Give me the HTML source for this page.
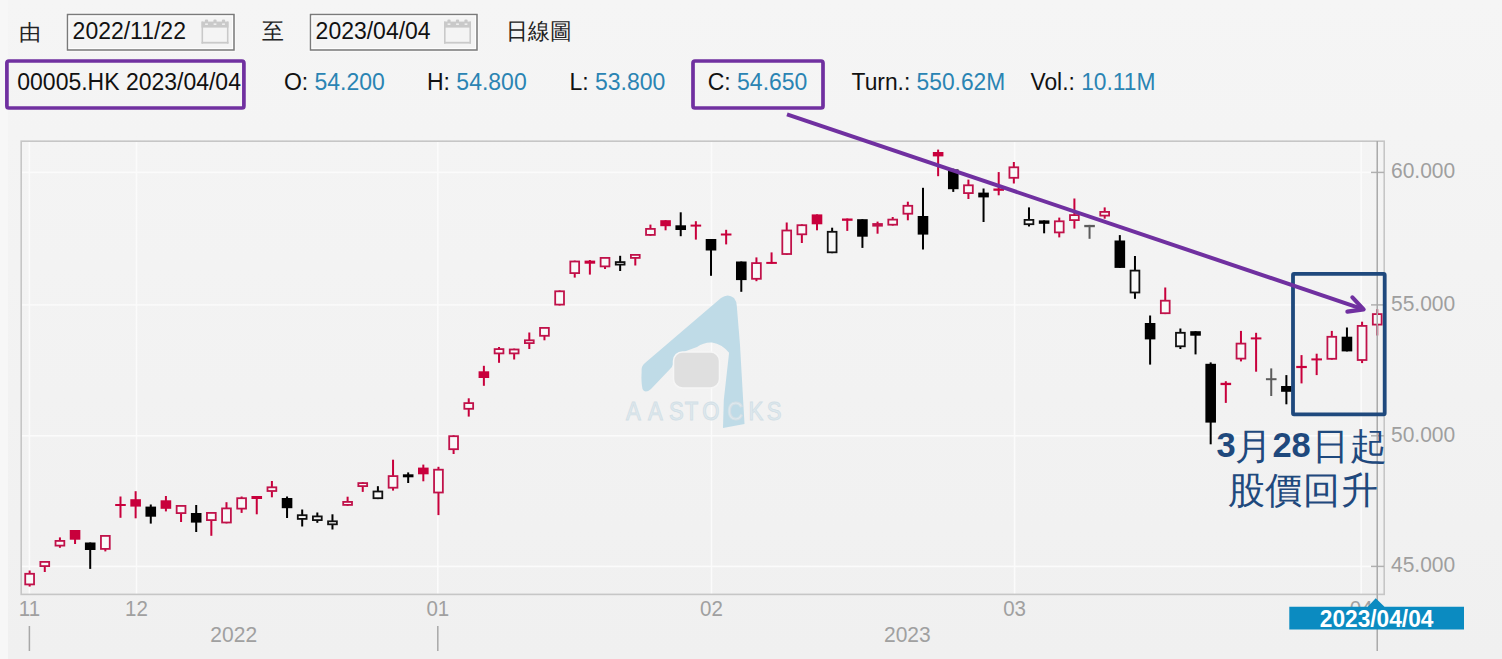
<!DOCTYPE html>
<html lang="zh-Hant"><head><meta charset="utf-8"><style>
html,body{margin:0;padding:0;}
body{width:1502px;height:659px;overflow:hidden;position:relative;background:linear-gradient(#f5f5f5,#f0f0f0);}
.strip{position:absolute;left:0;top:0;width:8px;height:659px;background:#f7f7f7;}
svg{position:absolute;left:0;top:0;}
svg text{font-family:"Liberation Sans",sans-serif;}
</style></head><body>
<div class="strip"></div>
<svg width="1502" height="659" viewBox="0 0 1502 659">
<rect x="66.2" y="13.2" width="169.1" height="38.1" fill="none" stroke="#fbfbfb" stroke-width="1"/>
<rect x="67.5" y="14.5" width="166.5" height="35.5" fill="#f4f4f4" stroke="#7a7a7a" stroke-width="1.5"/>
<rect x="69.0" y="16" width="163.5" height="32.5" fill="none" stroke="#fdfdfd" stroke-width="1"/>
<rect x="309.2" y="13.2" width="169.1" height="38.1" fill="none" stroke="#fbfbfb" stroke-width="1"/>
<rect x="310.5" y="14.5" width="166.5" height="35.5" fill="#f4f4f4" stroke="#7a7a7a" stroke-width="1.5"/>
<rect x="312.0" y="16" width="163.5" height="32.5" fill="none" stroke="#fdfdfd" stroke-width="1"/>
<g transform="translate(201.5,21.6)" fill="#c9c9c9"><rect x="0" y="0" width="27" height="6"/><rect x="0" y="0" width="1.6" height="22"/><rect x="25.4" y="0" width="1.6" height="22"/><rect x="0" y="20.2" width="27" height="1.8"/><rect x="3.4" y="-2" width="3.2" height="3" rx="1"/><rect x="3.6" y="1.8" width="2.8" height="1.6" fill="#eeeeee"/><rect x="11.9" y="-2" width="3.2" height="3" rx="1"/><rect x="12.1" y="1.8" width="2.8" height="1.6" fill="#eeeeee"/><rect x="20.4" y="-2" width="3.2" height="3" rx="1"/><rect x="20.6" y="1.8" width="2.8" height="1.6" fill="#eeeeee"/></g>
<g transform="translate(444,21.6)" fill="#c9c9c9"><rect x="0" y="0" width="27" height="6"/><rect x="0" y="0" width="1.6" height="22"/><rect x="25.4" y="0" width="1.6" height="22"/><rect x="0" y="20.2" width="27" height="1.8"/><rect x="3.4" y="-2" width="3.2" height="3" rx="1"/><rect x="3.6" y="1.8" width="2.8" height="1.6" fill="#eeeeee"/><rect x="11.9" y="-2" width="3.2" height="3" rx="1"/><rect x="12.1" y="1.8" width="2.8" height="1.6" fill="#eeeeee"/><rect x="20.4" y="-2" width="3.2" height="3" rx="1"/><rect x="20.6" y="1.8" width="2.8" height="1.6" fill="#eeeeee"/></g>
<text transform="translate(72.6,39.2) scale(1,1.03)" font-size="23" fill="#111" font-weight="normal" text-anchor="start" >2022/11/22</text>
<text transform="translate(315.6,39.2) scale(1,1.03)" font-size="23" fill="#111" font-weight="normal" text-anchor="start" >2023/04/04</text>
<text transform="translate(18.6,39.5) scale(1,1)" font-size="21.5" fill="#222" font-weight="normal" text-anchor="start" font-family="Liberation Serif, serif" >由</text>
<text transform="translate(261.5,38.5) scale(1,1.05)" font-size="22" fill="#222" font-weight="normal" text-anchor="start" font-family="Liberation Serif, serif" >至</text>
<text transform="translate(505.5,38.5) scale(1,1.05)" font-size="22" fill="#222" font-weight="normal" text-anchor="start" font-family="Liberation Serif, serif" >日線圖</text>
<rect x="6.9" y="61" width="237" height="47" rx="2" fill="none" stroke="#7030a0" stroke-width="3.7"/>
<rect x="693" y="61" width="130" height="47" rx="2" fill="none" stroke="#7030a0" stroke-width="3.7"/>
<text transform="translate(17.3,90.4) scale(1,1.03)" font-size="23" fill="#111" font-weight="normal" text-anchor="start" >00005.HK 2023/04/04</text>
<text transform="translate(283.9,90.4) scale(1,1.03)" font-size="23" fill="#111" font-weight="normal" text-anchor="start" >O: <tspan fill="#2a84b3">54.200</tspan></text>
<text transform="translate(427,90.4) scale(1,1.03)" font-size="23" fill="#111" font-weight="normal" text-anchor="start" >H: <tspan fill="#2a84b3">54.800</tspan></text>
<text transform="translate(569.4,90.4) scale(1,1.03)" font-size="23" fill="#111" font-weight="normal" text-anchor="start" >L: <tspan fill="#2a84b3">53.800</tspan></text>
<text transform="translate(707.7,90.4) scale(1,1.03)" font-size="23" fill="#111" font-weight="normal" text-anchor="start" >C: <tspan fill="#2a84b3">54.650</tspan></text>
<text transform="translate(851.6,90.4) scale(1,1.03)" font-size="22.8" fill="#111" font-weight="normal" text-anchor="start" >Turn.: <tspan fill="#2a84b3">550.62M</tspan></text>
<text transform="translate(1030.5,90.4) scale(1,1.03)" font-size="22.8" fill="#111" font-weight="normal" text-anchor="start" >Vol.: <tspan fill="#2a84b3">10.11M</tspan></text>
<rect x="28.65" y="142" width="1.5" height="452" fill="#fbfbfb"/>
<rect x="135.75" y="142" width="1.5" height="452" fill="#fbfbfb"/>
<rect x="437.05" y="142" width="1.5" height="452" fill="#fbfbfb"/>
<rect x="710.75" y="142" width="1.5" height="452" fill="#fbfbfb"/>
<rect x="1013.85" y="142" width="1.5" height="452" fill="#fbfbfb"/>
<rect x="1360.45" y="142" width="1.5" height="452" fill="#fbfbfb"/>
<rect x="22" y="171.65" width="1361" height="1.5" fill="#fbfbfb"/>
<rect x="22" y="304.15" width="1361" height="1.5" fill="#fbfbfb"/>
<rect x="22" y="435.05" width="1361" height="1.5" fill="#fbfbfb"/>
<rect x="22" y="565.65" width="1361" height="1.5" fill="#fbfbfb"/>
<path d="M641.6,372 Q641,366 645,363 L721,298 Q728,293 734,298 Q736.5,301 736.8,306 L740,345 L744.5,424 L723,428 L723.8,400 L729.1,352.8 Q722,344 712,342.5 Q704,342 697,347 L686,351 Q676,356 671.7,367.2 L651,389 Q645,394 642.5,389 Q641,382 641.6,372 Z" fill="#bfdbe7"/>
<rect x="673.5" y="352" width="46" height="36" rx="9" fill="#dfdfdf" stroke="#f6f6f6" stroke-width="1.5"/>
<text transform="translate(633.4,420) scale(0.92,1.05)" font-size="24" fill="#dfeaef" stroke="#d3dfe6" stroke-width="0.9" text-anchor="middle">A</text>
<text transform="translate(655.3,420) scale(0.92,1.05)" font-size="24" fill="#dfeaef" stroke="#d3dfe6" stroke-width="0.9" text-anchor="middle">A</text>
<text transform="translate(676.3,420) scale(0.92,1.05)" font-size="24" fill="#dfeaef" stroke="#d3dfe6" stroke-width="0.9" text-anchor="middle">S</text>
<text transform="translate(691.6,420) scale(0.92,1.05)" font-size="24" fill="#dfeaef" stroke="#d3dfe6" stroke-width="0.9" text-anchor="middle">T</text>
<text transform="translate(710.9,420) scale(0.92,1.05)" font-size="24" fill="#dfeaef" stroke="#d3dfe6" stroke-width="0.9" text-anchor="middle">O</text>
<text transform="translate(734.9,420) scale(0.92,1.05)" font-size="24" fill="#dfeaef" stroke="#d3dfe6" stroke-width="0.9" text-anchor="middle">C</text>
<text transform="translate(755.9,420) scale(0.92,1.05)" font-size="24" fill="#dfeaef" stroke="#d3dfe6" stroke-width="0.9" text-anchor="middle">K</text>
<text transform="translate(774.0,420) scale(0.92,1.05)" font-size="24" fill="#dfeaef" stroke="#d3dfe6" stroke-width="0.9" text-anchor="middle">S</text>
<rect x="21.2" y="141.2" width="1363" height="453.2" fill="none" stroke="#c6c6c6" stroke-width="1.6"/>
<rect x="1371" y="171.65" width="13" height="1.5" fill="#b0b0b0"/>
<text transform="translate(1391,178.2) scale(1,1.08)" font-size="21" fill="#9f9f9f" font-weight="normal" text-anchor="start" >60.000</text>
<rect x="1371" y="304.15" width="13" height="1.5" fill="#b0b0b0"/>
<text transform="translate(1391,310.7) scale(1,1.08)" font-size="21" fill="#9f9f9f" font-weight="normal" text-anchor="start" >55.000</text>
<rect x="1371" y="435.05" width="13" height="1.5" fill="#b0b0b0"/>
<text transform="translate(1391,441.6) scale(1,1.08)" font-size="21" fill="#9f9f9f" font-weight="normal" text-anchor="start" >50.000</text>
<rect x="1371" y="565.65" width="13" height="1.5" fill="#b0b0b0"/>
<text transform="translate(1391,572.2) scale(1,1.08)" font-size="21" fill="#9f9f9f" font-weight="normal" text-anchor="start" >45.000</text>
<rect x="28.64" y="570.50" width="2.0" height="16.10" fill="#c8003c"/>
<rect x="25.24" y="573.80" width="8.799999999999999" height="10.60" fill="#f9f9f9" stroke="#c0124a" stroke-width="1.8"/>
<rect x="43.78" y="561.00" width="2.0" height="11.00" fill="#c8003c"/>
<rect x="40.38" y="561.90" width="8.799999999999999" height="4.20" fill="#f9f9f9" stroke="#c0124a" stroke-width="1.8"/>
<rect x="58.92" y="537.40" width="2.0" height="10.40" fill="#c8003c"/>
<rect x="55.52" y="540.90" width="8.799999999999999" height="4.70" fill="#f9f9f9" stroke="#c0124a" stroke-width="1.8"/>
<rect x="74.06" y="530.00" width="2.0" height="14.00" fill="#c8003c"/>
<rect x="69.76" y="530.00" width="10.6" height="9.70" fill="#c8003c"/>
<rect x="89.21" y="542.50" width="2.0" height="26.40" fill="#000000"/>
<rect x="84.91" y="542.50" width="10.6" height="7.50" fill="#000000"/>
<rect x="104.35" y="535.00" width="2.0" height="16.40" fill="#c8003c"/>
<rect x="100.95" y="535.90" width="8.799999999999999" height="13.00" fill="#f9f9f9" stroke="#c0124a" stroke-width="1.8"/>
<rect x="119.49" y="496.50" width="2.0" height="21.30" fill="#c8003c"/>
<rect x="115.19" y="504.00" width="10.6" height="2.00" fill="#c8003c"/>
<rect x="134.63" y="491.20" width="2.0" height="27.10" fill="#c8003c"/>
<rect x="130.33" y="499.20" width="10.6" height="7.40" fill="#c8003c"/>
<rect x="149.77" y="504.50" width="2.0" height="19.10" fill="#000000"/>
<rect x="145.47" y="506.60" width="10.6" height="10.10" fill="#000000"/>
<rect x="164.91" y="496.00" width="2.0" height="15.40" fill="#c8003c"/>
<rect x="160.61" y="500.30" width="10.6" height="8.50" fill="#c8003c"/>
<rect x="180.06" y="505.00" width="2.0" height="17.00" fill="#c8003c"/>
<rect x="176.66" y="505.90" width="8.799999999999999" height="7.20" fill="#f9f9f9" stroke="#c0124a" stroke-width="1.8"/>
<rect x="195.20" y="505.00" width="2.0" height="27.00" fill="#000000"/>
<rect x="190.90" y="513.00" width="10.6" height="9.60" fill="#000000"/>
<rect x="210.34" y="512.00" width="2.0" height="23.80" fill="#c8003c"/>
<rect x="206.94" y="512.90" width="8.799999999999999" height="7.20" fill="#f9f9f9" stroke="#c0124a" stroke-width="1.8"/>
<rect x="225.48" y="502.20" width="2.0" height="21.20" fill="#c8003c"/>
<rect x="222.08" y="508.40" width="8.799999999999999" height="14.10" fill="#f9f9f9" stroke="#c0124a" stroke-width="1.8"/>
<rect x="240.62" y="496.50" width="2.0" height="16.40" fill="#c8003c"/>
<rect x="237.22" y="498.20" width="8.799999999999999" height="10.40" fill="#f9f9f9" stroke="#c0124a" stroke-width="1.8"/>
<rect x="255.76" y="496.00" width="2.0" height="18.30" fill="#c8003c"/>
<rect x="251.46" y="496.00" width="10.6" height="3.00" fill="#c8003c"/>
<rect x="270.90" y="481.00" width="2.0" height="16.30" fill="#c8003c"/>
<rect x="267.50" y="487.30" width="8.799999999999999" height="3.70" fill="#f9f9f9" stroke="#c0124a" stroke-width="1.8"/>
<rect x="286.05" y="496.50" width="2.0" height="21.50" fill="#000000"/>
<rect x="281.75" y="498.00" width="10.6" height="10.20" fill="#000000"/>
<rect x="301.19" y="509.50" width="2.0" height="17.00" fill="#000000"/>
<rect x="297.79" y="515.20" width="8.799999999999999" height="3.70" fill="#f9f9f9" stroke="#111" stroke-width="1.8"/>
<rect x="316.33" y="512.50" width="2.0" height="10.30" fill="#000000"/>
<rect x="312.93" y="516.40" width="8.799999999999999" height="3.70" fill="#f9f9f9" stroke="#111" stroke-width="1.8"/>
<rect x="331.47" y="514.30" width="2.0" height="15.20" fill="#000000"/>
<rect x="328.07" y="521.30" width="8.799999999999999" height="3.00" fill="#f9f9f9" stroke="#111" stroke-width="1.8"/>
<rect x="346.61" y="496.70" width="2.0" height="9.10" fill="#c8003c"/>
<rect x="343.21" y="501.90" width="8.799999999999999" height="3.00" fill="#f9f9f9" stroke="#c0124a" stroke-width="1.8"/>
<rect x="361.75" y="482.20" width="2.0" height="9.70" fill="#c8003c"/>
<rect x="358.35" y="483.10" width="8.799999999999999" height="3.00" fill="#f9f9f9" stroke="#c0124a" stroke-width="1.8"/>
<rect x="376.89" y="486.20" width="2.0" height="12.90" fill="#000000"/>
<rect x="373.49" y="491.50" width="8.799999999999999" height="6.70" fill="#f9f9f9" stroke="#111" stroke-width="1.8"/>
<rect x="392.04" y="459.70" width="2.0" height="30.90" fill="#c8003c"/>
<rect x="388.64" y="476.10" width="8.799999999999999" height="11.60" fill="#f9f9f9" stroke="#c0124a" stroke-width="1.8"/>
<rect x="407.18" y="472.40" width="2.0" height="10.60" fill="#000000"/>
<rect x="402.88" y="474.30" width="10.6" height="3.00" fill="#000000"/>
<rect x="422.32" y="464.60" width="2.0" height="16.70" fill="#c8003c"/>
<rect x="418.02" y="467.60" width="10.6" height="6.70" fill="#c8003c"/>
<rect x="437.46" y="466.80" width="2.0" height="48.30" fill="#c8003c"/>
<rect x="434.06" y="469.70" width="8.799999999999999" height="22.80" fill="#f9f9f9" stroke="#c0124a" stroke-width="1.8"/>
<rect x="452.60" y="435.30" width="2.0" height="18.70" fill="#c8003c"/>
<rect x="449.20" y="436.20" width="8.799999999999999" height="13.00" fill="#f9f9f9" stroke="#c0124a" stroke-width="1.8"/>
<rect x="467.74" y="398.30" width="2.0" height="18.30" fill="#c8003c"/>
<rect x="464.34" y="403.10" width="8.799999999999999" height="5.70" fill="#f9f9f9" stroke="#c0124a" stroke-width="1.8"/>
<rect x="482.88" y="365.80" width="2.0" height="20.00" fill="#c8003c"/>
<rect x="478.58" y="371.30" width="10.6" height="6.70" fill="#c8003c"/>
<rect x="498.03" y="347.00" width="2.0" height="15.80" fill="#c8003c"/>
<rect x="494.63" y="349.10" width="8.799999999999999" height="4.30" fill="#f9f9f9" stroke="#c0124a" stroke-width="1.8"/>
<rect x="513.17" y="348.60" width="2.0" height="10.90" fill="#c8003c"/>
<rect x="509.77" y="349.50" width="8.799999999999999" height="3.90" fill="#f9f9f9" stroke="#c0124a" stroke-width="1.8"/>
<rect x="528.31" y="332.50" width="2.0" height="16.50" fill="#c8003c"/>
<rect x="524.91" y="340.30" width="8.799999999999999" height="2.80" fill="#f9f9f9" stroke="#c0124a" stroke-width="1.8"/>
<rect x="543.45" y="327.00" width="2.0" height="13.30" fill="#c8003c"/>
<rect x="540.05" y="327.90" width="8.799999999999999" height="7.90" fill="#f9f9f9" stroke="#c0124a" stroke-width="1.8"/>
<rect x="558.59" y="290.40" width="2.0" height="15.10" fill="#c8003c"/>
<rect x="555.19" y="291.30" width="8.799999999999999" height="13.30" fill="#f9f9f9" stroke="#c0124a" stroke-width="1.8"/>
<rect x="573.73" y="260.60" width="2.0" height="17.00" fill="#c8003c"/>
<rect x="570.33" y="261.50" width="8.799999999999999" height="11.60" fill="#f9f9f9" stroke="#c0124a" stroke-width="1.8"/>
<rect x="588.88" y="260.00" width="2.0" height="14.60" fill="#c8003c"/>
<rect x="584.58" y="260.60" width="10.6" height="3.10" fill="#c8003c"/>
<rect x="604.02" y="257.00" width="2.0" height="12.00" fill="#c8003c"/>
<rect x="600.62" y="257.90" width="8.799999999999999" height="8.50" fill="#f9f9f9" stroke="#c0124a" stroke-width="1.8"/>
<rect x="619.16" y="255.80" width="2.0" height="15.20" fill="#000000"/>
<rect x="615.76" y="262.10" width="8.799999999999999" height="2.50" fill="#f9f9f9" stroke="#111" stroke-width="1.8"/>
<rect x="634.30" y="254.00" width="2.0" height="11.50" fill="#c8003c"/>
<rect x="630.90" y="254.90" width="8.799999999999999" height="3.00" fill="#f9f9f9" stroke="#c0124a" stroke-width="1.8"/>
<rect x="649.44" y="224.60" width="2.0" height="11.20" fill="#c8003c"/>
<rect x="646.04" y="228.90" width="8.799999999999999" height="6.00" fill="#f9f9f9" stroke="#c0124a" stroke-width="1.8"/>
<rect x="664.58" y="220.20" width="2.0" height="10.10" fill="#c8003c"/>
<rect x="660.28" y="220.20" width="10.6" height="6.00" fill="#c8003c"/>
<rect x="679.72" y="212.30" width="2.0" height="23.90" fill="#000000"/>
<rect x="675.42" y="225.30" width="10.6" height="4.70" fill="#000000"/>
<rect x="694.87" y="221.20" width="2.0" height="18.40" fill="#c8003c"/>
<rect x="690.57" y="224.60" width="10.6" height="2.00" fill="#c8003c"/>
<rect x="710.01" y="239.00" width="2.0" height="36.80" fill="#000000"/>
<rect x="705.71" y="239.00" width="10.6" height="11.50" fill="#000000"/>
<rect x="725.15" y="229.80" width="2.0" height="14.60" fill="#c8003c"/>
<rect x="720.85" y="233.50" width="10.6" height="2.00" fill="#c8003c"/>
<rect x="740.29" y="261.50" width="2.0" height="30.30" fill="#000000"/>
<rect x="735.99" y="261.50" width="10.6" height="18.60" fill="#000000"/>
<rect x="755.43" y="257.40" width="2.0" height="23.80" fill="#c8003c"/>
<rect x="752.03" y="263.10" width="8.799999999999999" height="15.70" fill="#f9f9f9" stroke="#c0124a" stroke-width="1.8"/>
<rect x="770.57" y="252.40" width="2.0" height="11.30" fill="#c8003c"/>
<rect x="766.27" y="261.90" width="10.6" height="2.00" fill="#c8003c"/>
<rect x="785.72" y="222.50" width="2.0" height="32.40" fill="#c8003c"/>
<rect x="782.32" y="230.50" width="8.799999999999999" height="23.50" fill="#f9f9f9" stroke="#c0124a" stroke-width="1.8"/>
<rect x="800.86" y="224.30" width="2.0" height="18.70" fill="#c8003c"/>
<rect x="797.46" y="225.20" width="8.799999999999999" height="9.10" fill="#f9f9f9" stroke="#c0124a" stroke-width="1.8"/>
<rect x="816.00" y="214.40" width="2.0" height="15.90" fill="#c8003c"/>
<rect x="811.70" y="214.40" width="10.6" height="9.90" fill="#c8003c"/>
<rect x="831.14" y="227.70" width="2.0" height="25.50" fill="#000000"/>
<rect x="827.74" y="231.80" width="8.799999999999999" height="20.50" fill="#f9f9f9" stroke="#111" stroke-width="1.8"/>
<rect x="846.28" y="218.50" width="2.0" height="12.40" fill="#c8003c"/>
<rect x="841.98" y="218.50" width="10.6" height="2.30" fill="#c8003c"/>
<rect x="861.42" y="219.20" width="2.0" height="28.70" fill="#000000"/>
<rect x="857.12" y="219.20" width="10.6" height="17.50" fill="#000000"/>
<rect x="876.56" y="221.60" width="2.0" height="12.10" fill="#c8003c"/>
<rect x="873.16" y="224.00" width="8.799999999999999" height="1.70" fill="#f9f9f9" stroke="#c0124a" stroke-width="1.8"/>
<rect x="891.71" y="217.00" width="2.0" height="8.60" fill="#c8003c"/>
<rect x="888.31" y="219.60" width="8.799999999999999" height="5.10" fill="#f9f9f9" stroke="#c0124a" stroke-width="1.8"/>
<rect x="906.85" y="201.70" width="2.0" height="18.60" fill="#c8003c"/>
<rect x="903.45" y="205.80" width="8.799999999999999" height="7.90" fill="#f9f9f9" stroke="#c0124a" stroke-width="1.8"/>
<rect x="921.99" y="187.80" width="2.0" height="61.70" fill="#000000"/>
<rect x="917.69" y="216.00" width="10.6" height="18.60" fill="#000000"/>
<rect x="937.13" y="149.60" width="2.0" height="26.60" fill="#c8003c"/>
<rect x="932.83" y="152.00" width="10.6" height="4.40" fill="#c8003c"/>
<rect x="952.27" y="168.70" width="2.0" height="23.20" fill="#000000"/>
<rect x="947.97" y="169.40" width="10.6" height="19.80" fill="#000000"/>
<rect x="967.41" y="179.60" width="2.0" height="19.40" fill="#c8003c"/>
<rect x="964.01" y="185.30" width="8.799999999999999" height="7.80" fill="#f9f9f9" stroke="#c0124a" stroke-width="1.8"/>
<rect x="982.55" y="188.50" width="2.0" height="33.50" fill="#000000"/>
<rect x="978.25" y="192.60" width="10.6" height="4.80" fill="#000000"/>
<rect x="997.70" y="172.10" width="2.0" height="23.20" fill="#c8003c"/>
<rect x="993.40" y="188.50" width="10.6" height="2.30" fill="#c8003c"/>
<rect x="1012.84" y="162.00" width="2.0" height="21.50" fill="#c8003c"/>
<rect x="1009.44" y="167.30" width="8.799999999999999" height="10.50" fill="#f9f9f9" stroke="#c0124a" stroke-width="1.8"/>
<rect x="1027.98" y="207.40" width="2.0" height="19.10" fill="#000000"/>
<rect x="1024.58" y="219.90" width="8.799999999999999" height="4.30" fill="#f9f9f9" stroke="#111" stroke-width="1.8"/>
<rect x="1043.12" y="220.40" width="2.0" height="12.90" fill="#000000"/>
<rect x="1038.82" y="220.40" width="10.6" height="3.40" fill="#000000"/>
<rect x="1058.26" y="217.60" width="2.0" height="19.80" fill="#c8003c"/>
<rect x="1054.86" y="221.30" width="8.799999999999999" height="11.10" fill="#f9f9f9" stroke="#c0124a" stroke-width="1.8"/>
<rect x="1073.40" y="198.50" width="2.0" height="30.10" fill="#c8003c"/>
<rect x="1070.00" y="215.10" width="8.799999999999999" height="5.00" fill="#f9f9f9" stroke="#c0124a" stroke-width="1.8"/>
<rect x="1088.55" y="224.90" width="2.0" height="13.90" fill="#5c5c5c"/>
<rect x="1084.25" y="224.90" width="10.6" height="2.30" fill="#5c5c5c"/>
<rect x="1103.69" y="207.40" width="2.0" height="11.30" fill="#c8003c"/>
<rect x="1100.29" y="211.90" width="8.799999999999999" height="3.70" fill="#f9f9f9" stroke="#c0124a" stroke-width="1.8"/>
<rect x="1118.83" y="235.10" width="2.0" height="32.80" fill="#000000"/>
<rect x="1114.53" y="240.50" width="10.6" height="27.40" fill="#000000"/>
<rect x="1133.97" y="256.00" width="2.0" height="42.80" fill="#000000"/>
<rect x="1130.57" y="270.60" width="8.799999999999999" height="21.90" fill="#f9f9f9" stroke="#111" stroke-width="1.8"/>
<rect x="1149.11" y="315.50" width="2.0" height="49.10" fill="#000000"/>
<rect x="1144.81" y="323.00" width="10.6" height="16.40" fill="#000000"/>
<rect x="1164.25" y="287.50" width="2.0" height="26.60" fill="#c8003c"/>
<rect x="1160.85" y="300.70" width="8.799999999999999" height="12.50" fill="#f9f9f9" stroke="#c0124a" stroke-width="1.8"/>
<rect x="1179.39" y="328.50" width="2.0" height="20.50" fill="#000000"/>
<rect x="1175.99" y="332.80" width="8.799999999999999" height="13.50" fill="#f9f9f9" stroke="#111" stroke-width="1.8"/>
<rect x="1194.54" y="331.20" width="2.0" height="23.20" fill="#000000"/>
<rect x="1190.24" y="331.20" width="10.6" height="4.50" fill="#000000"/>
<rect x="1209.68" y="362.40" width="2.0" height="81.90" fill="#000000"/>
<rect x="1205.38" y="363.80" width="10.6" height="58.80" fill="#000000"/>
<rect x="1224.82" y="381.20" width="2.0" height="21.70" fill="#c8003c"/>
<rect x="1220.52" y="382.80" width="10.6" height="2.30" fill="#c8003c"/>
<rect x="1239.96" y="330.90" width="2.0" height="30.50" fill="#c8003c"/>
<rect x="1236.56" y="343.60" width="8.799999999999999" height="15.00" fill="#f9f9f9" stroke="#c0124a" stroke-width="1.8"/>
<rect x="1255.10" y="332.80" width="2.0" height="38.90" fill="#c8003c"/>
<rect x="1250.80" y="337.40" width="10.6" height="2.00" fill="#c8003c"/>
<rect x="1270.24" y="368.40" width="2.0" height="27.60" fill="#5c5c5c"/>
<rect x="1265.94" y="378.20" width="10.6" height="2.00" fill="#5c5c5c"/>
<rect x="1285.38" y="375.10" width="2.0" height="29.20" fill="#000000"/>
<rect x="1281.08" y="386.00" width="10.6" height="5.80" fill="#000000"/>
<rect x="1300.53" y="355.10" width="2.0" height="28.30" fill="#c8003c"/>
<rect x="1296.23" y="365.90" width="10.6" height="2.20" fill="#c8003c"/>
<rect x="1315.67" y="353.70" width="2.0" height="21.40" fill="#c8003c"/>
<rect x="1311.37" y="358.40" width="10.6" height="2.00" fill="#c8003c"/>
<rect x="1330.81" y="330.90" width="2.0" height="28.80" fill="#c8003c"/>
<rect x="1327.41" y="336.80" width="8.799999999999999" height="22.00" fill="#f9f9f9" stroke="#c0124a" stroke-width="1.8"/>
<rect x="1345.95" y="327.50" width="2.0" height="23.90" fill="#000000"/>
<rect x="1341.65" y="336.70" width="10.6" height="14.70" fill="#000000"/>
<rect x="1361.09" y="321.70" width="2.0" height="41.40" fill="#c8003c"/>
<rect x="1357.69" y="325.90" width="8.799999999999999" height="34.10" fill="#f9f9f9" stroke="#c0124a" stroke-width="1.8"/>
<rect x="1376.23" y="309.20" width="2.0" height="26.30" fill="#c8003c"/>
<rect x="1372.83" y="314.10" width="8.799999999999999" height="10.50" fill="#f9f9f9" stroke="#c0124a" stroke-width="1.8"/>
<rect x="1376.48" y="141" width="1.5" height="510" fill="#aaaaaa"/>
<text transform="translate(29.4,616) scale(1,1.08)" font-size="20.5" fill="#a0a0a0" font-weight="normal" text-anchor="middle" >11</text>
<text transform="translate(136.5,616) scale(1,1.08)" font-size="20.5" fill="#a0a0a0" font-weight="normal" text-anchor="middle" >12</text>
<text transform="translate(437.8,616) scale(1,1.08)" font-size="20.5" fill="#a0a0a0" font-weight="normal" text-anchor="middle" >01</text>
<text transform="translate(711.5,616) scale(1,1.08)" font-size="20.5" fill="#a0a0a0" font-weight="normal" text-anchor="middle" >02</text>
<text transform="translate(1014.6,616) scale(1,1.08)" font-size="20.5" fill="#a0a0a0" font-weight="normal" text-anchor="middle" >03</text>
<text transform="translate(1361.2,616) scale(1,1.08)" font-size="20.5" fill="#a0a0a0" font-weight="normal" text-anchor="middle" >04</text>
<text transform="translate(233.7,642) scale(1,1.06)" font-size="21" fill="#a0a0a0" font-weight="normal" text-anchor="middle" >2022</text>
<text transform="translate(907.3,642) scale(1,1.06)" font-size="21" fill="#a0a0a0" font-weight="normal" text-anchor="middle" >2023</text>
<rect x="28.65" y="626" width="1.5" height="25" fill="#a8a8a8"/>
<rect x="437.05" y="626" width="1.5" height="25" fill="#a8a8a8"/>
<path d="M1289.3,606.7 L1367.7,606.7 L1375.7,598.3 L1384.5,606.7 L1464,606.7 L1464,629.5 L1289.3,629.5 Z" fill="#0b8bc1"/>
<text transform="translate(1376.6,627) scale(1,1.05)" font-size="22.7" fill="#fff" font-weight="bold" text-anchor="middle" >2023/04/04</text>
<rect x="1293" y="273.9" width="91.7" height="140.4" fill="none" stroke="#1f497d" stroke-width="3.8" rx="1"/>
<line x1="787" y1="114.3" x2="1362" y2="308.8" stroke="#7030a0" stroke-width="4"/>
<polyline points="1352.4,297.4 1363.6,309.4 1347.4,311.6" fill="none" stroke="#7030a0" stroke-width="4.2" stroke-linecap="round" stroke-linejoin="round"/>
<text transform="translate(1216.6,457) scale(1,1)" font-size="34.5" fill="#1f497d" font-weight="bold" text-anchor="start" >3</text>
<text transform="translate(1272.4,457) scale(1,1)" font-size="34.5" fill="#1f497d" font-weight="bold" text-anchor="start" >28</text>
<text transform="translate(1235,458.5) scale(1,1)" font-size="37" fill="#1f497d" font-weight="normal" text-anchor="start" font-family="Liberation Serif, serif" >月</text>
<text transform="translate(1312.2,458.5) scale(1,1)" font-size="37" fill="#1f497d" font-weight="normal" text-anchor="start" font-family="Liberation Serif, serif" >日</text>
<text transform="translate(1350.1,458.5) scale(1,1)" font-size="37" fill="#1f497d" font-weight="normal" text-anchor="start" font-family="Liberation Serif, serif" >起</text>
<text transform="translate(1227.5,503) scale(1,1)" font-size="37" fill="#1f497d" font-weight="normal" text-anchor="start" font-family="Liberation Serif, serif" letter-spacing="0.7">股價回升</text>
</svg>
</body></html>
